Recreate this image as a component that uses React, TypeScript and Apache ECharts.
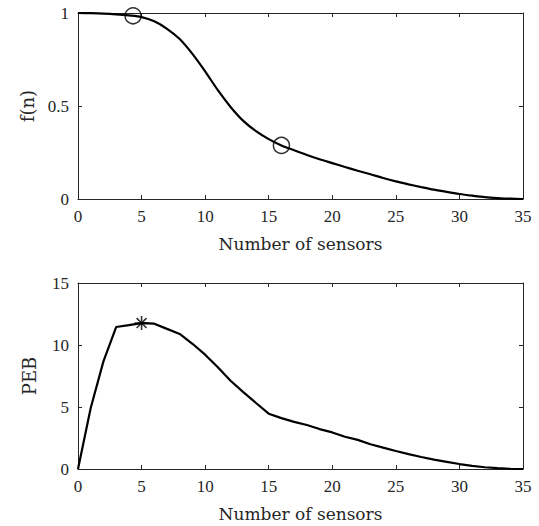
import React, { useEffect, useRef } from "react";
import * as echarts from "echarts";

const sensors = Array.from({ length: 36 }, (_, i) => i);
const fValues = [
  1.0, 0.999, 0.997, 0.993, 0.987, 0.978, 0.955, 0.915, 0.86, 0.78, 0.686, 0.585,
  0.495, 0.42, 0.365, 0.322, 0.288, 0.262, 0.237, 0.214, 0.193, 0.172, 0.152, 0.133,
  0.113, 0.095, 0.079, 0.064, 0.05, 0.038, 0.027, 0.018, 0.01, 0.005, 0.0015, 0,
];
const pebValues = [
  0, 4.92, 8.68, 11.45, 11.6, 11.77, 11.72, 11.3, 10.89, 10.1, 9.22, 8.2, 7.12, 6.2,
  5.32, 4.46, 4.1, 3.8, 3.55, 3.22, 2.95, 2.6, 2.35, 2.0, 1.72, 1.45, 1.2, 0.97, 0.75,
  0.58, 0.4, 0.25, 0.14, 0.07, 0.02, 0,
];
const circlePoints = [
  [4.33, 0.985],
  [16, 0.288],
];
const starPoint = [[5, 11.77]];

const AX = "#262626";
const FONT = "Liberation Serif";
const NAME_FONT = "DejaVu Serif";

export default function App() {
  const ref = useRef<HTMLDivElement>(null);
  useEffect(() => {
    document.body.style.margin = "0";
    const chart = echarts.init(ref.current!, null, { renderer: "svg" });
    const xBase = (grid: number, pos: "bottom" | "top", main: boolean) => ({
      type: "value",
      gridIndex: grid,
      position: pos,
      min: 0,
      max: 35,
      interval: 5,
      name: main ? "Number of sensors" : "",
      nameLocation: "middle",
      nameGap: 36,
      nameTextStyle: { fontFamily: NAME_FONT, fontSize: 17, color: AX },
      axisLine: { show: true, onZero: false, lineStyle: { color: AX, width: 1 } },
      axisTick: { show: true, inside: true, length: 4, lineStyle: { color: AX } },
      axisLabel: { show: main, margin: 9, fontFamily: FONT, fontSize: 17, color: AX },
      splitLine: { show: false },
    });
    const yBase = (grid: number, pos: "left" | "right", main: boolean, max: number, interval: number, name: string) => ({
      type: "value",
      gridIndex: grid,
      position: pos,
      min: 0,
      max,
      interval,
      name: main ? name : "",
      nameLocation: "middle",
      nameGap: 40,
      nameTextStyle: { fontFamily: NAME_FONT, fontSize: 18, color: AX },
      axisLine: { show: true, onZero: false, lineStyle: { color: AX, width: 1 } },
      axisTick: { show: true, inside: true, length: 4, lineStyle: { color: AX } },
      axisLabel: { show: main, margin: 9, fontFamily: FONT, fontSize: 17, color: AX },
      splitLine: { show: false },
    });
    chart.setOption({
      animation: false,
      backgroundColor: "#ffffff",
      grid: [
        { left: 78, top: 13, width: 445, height: 186 },
        { left: 78, top: 283, width: 445, height: 186 },
      ],
      xAxis: [
        xBase(0, "bottom", true),
        xBase(0, "top", false),
        xBase(1, "bottom", true),
        xBase(1, "top", false),
      ],
      yAxis: [
        yBase(0, "left", true, 1, 0.5, "f(n)"),
        yBase(0, "right", false, 1, 0.5, ""),
        yBase(1, "left", true, 15, 5, "PEB"),
        yBase(1, "right", false, 15, 5, ""),
      ],
      series: [
        {
          type: "line",
          xAxisIndex: 0,
          yAxisIndex: 0,
          data: sensors.map((n, i) => [n, fValues[i]]),
          smooth: 0.3,
          showSymbol: false,
          lineStyle: { color: "#000", width: 2.2 },
        },
        {
          type: "scatter",
          xAxisIndex: 0,
          yAxisIndex: 0,
          data: circlePoints,
          symbol: "circle",
          symbolSize: 16,
          itemStyle: { color: "transparent", borderColor: "#000", borderWidth: 1.5 },
        },
        {
          type: "line",
          xAxisIndex: 2,
          yAxisIndex: 2,
          data: sensors.map((n, i) => [n, pebValues[i]]),
          showSymbol: false,
          lineStyle: { color: "#000", width: 2.2 },
        },
        {
          type: "scatter",
          xAxisIndex: 2,
          yAxisIndex: 2,
          data: starPoint,
          symbol: "path://M10,0L10,20M0,10L20,10M2.93,2.93L17.07,17.07M2.93,17.07L17.07,2.93",
          symbolSize: 14,
          itemStyle: { color: "transparent", borderColor: "#000", borderWidth: 1.6 },
        },
      ],
    });
    return () => chart.dispose();
  }, []);
  return <div ref={ref} style={{ width: 539, height: 526 }} />;
}
